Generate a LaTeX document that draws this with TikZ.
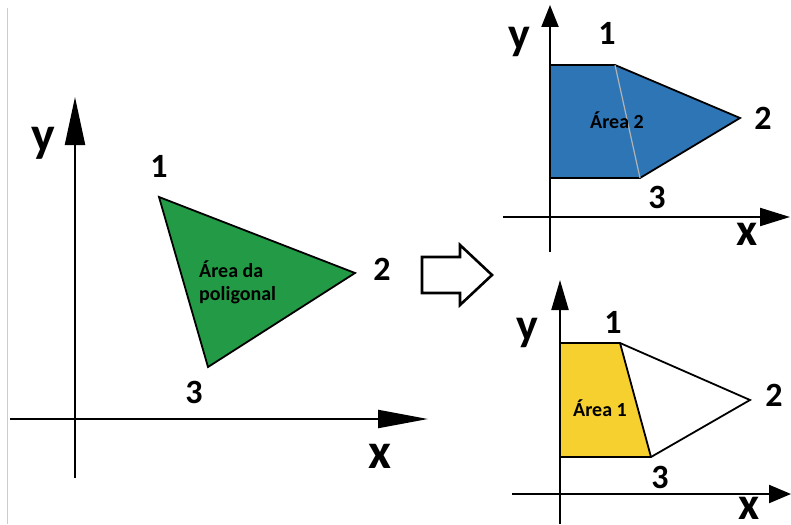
\documentclass[tikz,border=0pt]{standalone}
\usepackage{fontspec}
\setmainfont{Carlito}
\usetikzlibrary{arrows.meta}
\definecolor{areagreen}{RGB}{35,155,70}
\definecolor{areablue}{RGB}{46,117,182}
\definecolor{areayellow}{RGB}{246,208,46}
\begin{document}
\begin{tikzpicture}[x=1pt,y=-1pt,
  axis/.style={line width=2.2pt},
  poly/.style={draw,line width=1.8pt,line join=miter},
  lbl/.style={font=\fontsize{34}{34}\selectfont\bfseries,inner sep=0pt},
  axlbl/.style={font=\fontsize{50}{50}\selectfont\bfseries,inner sep=0pt},
  arealbl/.style={font=\fontsize{20}{23}\selectfont\bfseries,inner sep=0pt,align=left}]
\useasboundingbox (0,0) rectangle (791,524);
\draw[black!20,line width=1pt] (7,8) -- (7,524);
% left: the whole polygon
\coordinate (ybot1) at (75,478); \coordinate (ytip1) at (75,97);
\coordinate (xbeg1) at (10,419); \coordinate (xtip1) at (428,419);
\draw[axis,-{Triangle[length=48pt,width=20pt]}] (ybot1) -- (ytip1);
\draw[axis,-{Triangle[length=50pt,width=18pt]}] (xbeg1) -- (xtip1);
\coordinate (a1) at (159,197); \coordinate (a2) at (355,273); \coordinate (a3) at (208,367);
\draw[poly,fill=areagreen] (a1) -- (a2) -- (a3) -- cycle;
\node[arealbl,anchor=west] (areatot) at (199,282) {Área da\\poligonal};
\node[lbl] (n1a) at (159,166) {1};
\node[lbl] (n2a) at (382,269) {2};
\node[lbl] (n3a) at (194,392) {3};
\node[axlbl] (ya) at (43,143) {y};
\node[axlbl] (xa) at (380,456) {x};
% block arrow
\draw[line width=2.6pt,line join=miter] (422,257) -- (460,257) -- (460,245) -- (492,275)
  -- (460,305) -- (460,293) -- (422,293) -- cycle;
% top right: area 2
\coordinate (ybot2) at (550,252); \coordinate (ytip2) at (550,5);
\coordinate (xbeg2) at (503,217); \coordinate (xtip2) at (790,217);
\draw[axis,-{Triangle[length=22pt,width=17pt]}] (ybot2) -- (ytip2);
\draw[axis,-{Triangle[length=30pt,width=18pt]}] (xbeg2) -- (xtip2);
\coordinate (b0) at (550,65); \coordinate (b1) at (615,65); \coordinate (b2) at (740,118);
\coordinate (b3) at (640,178); \coordinate (b4) at (550,178);
\draw[poly,fill=areablue] (b0) -- (b1) -- (b2) -- (b3) -- (b4) -- cycle;
\draw[black!30,line width=1.2pt] (b1) -- (b3);
\node[arealbl,font=\fontsize{20}{20}\selectfont\bfseries] (area2) at (617,120) {Área 2};
\node[lbl] (n1b) at (607,33) {1};
\node[lbl] (n2b) at (763,118) {2};
\node[lbl] (n3b) at (657,197) {3};
\node[axlbl,font=\fontsize{46}{46}\selectfont\bfseries] (yb) at (519,42) {y};
\node[axlbl,font=\fontsize{46}{46}\selectfont\bfseries] (xb) at (747,234) {x};
% bottom right: area 1
\coordinate (ybot3) at (560,524); \coordinate (ytip3) at (560,280);
\coordinate (xbeg3) at (512,494); \coordinate (xtip3) at (791,494);
\draw[axis,-{Triangle[length=30pt,width=17pt]}] (ybot3) -- (ytip3);
\draw[axis,-{Triangle[length=22pt,width=18pt]}] (xbeg3) -- (xtip3);
\coordinate (c0) at (560,343); \coordinate (c1) at (620,343); \coordinate (c2) at (750,400);
\coordinate (c3) at (651,457); \coordinate (c4) at (560,457);
\fill[areayellow] (c0) -- (c1) -- (c3) -- (c4) -- cycle;
\draw[poly] (c0) -- (c1) -- (c2) -- (c3) -- (c4) -- cycle;
\draw[poly] (c1) -- (c3);
\node[arealbl,font=\fontsize{20}{20}\selectfont\bfseries] (area1) at (600,408) {Área 1};
\node[lbl] (n1c) at (613,322) {1};
\node[lbl] (n2c) at (774,395) {2};
\node[lbl] (n3c) at (660,477) {3};
\node[axlbl,font=\fontsize{46}{46}\selectfont\bfseries] (yc) at (527,333) {y};
\node[axlbl,font=\fontsize{46}{46}\selectfont\bfseries] (xc) at (749,508) {x};
\end{tikzpicture}
\end{document}
